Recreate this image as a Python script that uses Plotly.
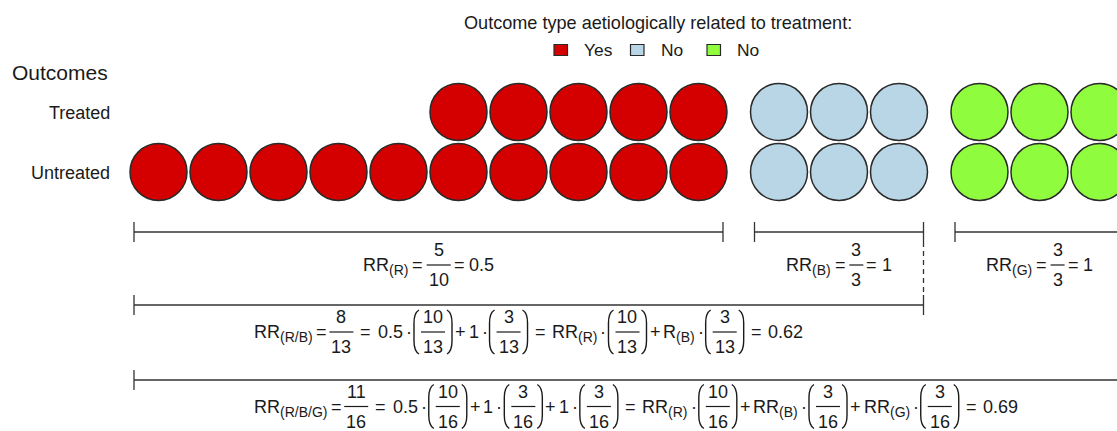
import plotly.graph_objects as go

# ---------------- data ----------------
group_labels = ["Yes", "No", "No"]            # outcome type aetiologically related to treatment
treated_counts = [5, 3, 3]                     # outcomes among treated, per outcome type
untreated_counts = [10, 3, 3]                  # outcomes among untreated, per outcome type
row_labels = ["Treated", "Untreated"]
legend_title = "Outcome type aetiologically related to treatment:"
axis_title = "Outcomes"

# formula token lists: t=text, s=subscript, g=gap(px), f=fraction, p=fraction in parentheses
formula_R = [("t", "RR"), ("s", "(R)"), ("g", 4), ("t", "="), ("g", 4), ("f", "5", "10"),
             ("g", 3), ("t", "="), ("g", 5), ("t", "0.5")]
formula_B = [("t", "RR"), ("s", "(B)"), ("g", 4), ("t", "="), ("g", 4), ("f", "3", "3"),
             ("g", 3), ("t", "="), ("g", 5), ("t", "1")]
formula_G = [("t", "RR"), ("s", "(G)"), ("g", 4), ("t", "="), ("g", 4), ("f", "3", "3"),
             ("g", 3), ("t", "="), ("g", 5), ("t", "1")]
formula_RB = [("t", "RR"), ("s", "(R/B)"), ("g", 3), ("t", "="), ("g", 3), ("f", "8", "13"),
              ("g", 7), ("t", "="), ("g", 7), ("t", "0.5"), ("g", 3), ("t", "·"), ("g", 3),
              ("p", "10", "13"), ("g", 3), ("t", "+"), ("g", 3), ("t", "1"), ("g", 3), ("t", "·"),
              ("g", 3), ("p", "3", "13"), ("g", 7), ("t", "="), ("g", 7), ("t", "RR"), ("s", "(R)"),
              ("g", 3), ("t", "·"), ("g", 3), ("p", "10", "13"), ("g", 3), ("t", "+"), ("g", 3),
              ("t", "R"), ("s", "(B)"), ("g", 3), ("t", "·"), ("g", 3), ("p", "3", "13"),
              ("g", 7), ("t", "="), ("g", 7), ("t", "0.62")]
formula_RBG = [("t", "RR"), ("s", "(R/B/G)"), ("g", 3), ("t", "="), ("g", 3), ("f", "11", "16"),
               ("g", 7), ("t", "="), ("g", 7), ("t", "0.5"), ("g", 3), ("t", "·"), ("g", 3),
               ("p", "10", "16"), ("g", 3), ("t", "+"), ("g", 3), ("t", "1"), ("g", 3), ("t", "·"),
               ("g", 3), ("p", "3", "16"), ("g", 3), ("t", "+"), ("g", 3), ("t", "1"), ("g", 3),
               ("t", "·"), ("g", 3), ("p", "3", "16"), ("g", 7), ("t", "="), ("g", 7),
               ("t", "RR"), ("s", "(R)"), ("g", 3), ("t", "·"), ("g", 3), ("p", "10", "16"),
               ("g", 3), ("t", "+"), ("g", 3), ("t", "RR"), ("s", "(B)"), ("g", 3), ("t", "·"),
               ("g", 3), ("p", "3", "16"), ("g", 3), ("t", "+"), ("g", 3), ("t", "RR"),
               ("s", "(G)"), ("g", 3), ("t", "·"), ("g", 3), ("p", "3", "16"), ("g", 7),
               ("t", "="), ("g", 7), ("t", "0.69")]

# ---------------- style ----------------
W, H = 1117, 431
FONT = "Liberation Sans, Arial, sans-serif"
TXT = "#1a1a1a"
LINE = "#333333"
colors = ["#d40000", "#b8d6e5", "#8ffc3d"]
F = 18          # main formula font
FS = 14         # subscript font
SUB_DY = 5
FDY = 15        # numerator/denominator offset from bar
FPAD = 2
PW, PGAP, PH = 5, 2, 22

slot = 60.0
diam = 57
first_center = 158.5
group_gap = 20.5
row_y = {"Treated": 112, "Untreated": 172}
inset = 24.5
bracket_y = [232, 305, 380]
formula_y = [265, 332, 406.5]
tick_h = 10

# Arial / Liberation Sans advance widths (per 1000 em)
CW = {" ": 278, "(": 333, ")": 333, "/": 278, "=": 584, "+": 584, ".": 278, "·": 278,
      "R": 722, "B": 667, "G": 778, ":": 278}


def tw(s, size):
    return sum(CW.get(c, 556) for c in s) / 1000.0 * size


fig = go.Figure()
shapes = []
annotations = []


def text(s, x, y, size, xanchor="left", color=TXT):
    annotations.append(dict(text=s, x=x, y=y, xref="x", yref="y", showarrow=False,
                            xanchor=xanchor, yanchor="middle", borderpad=0, borderwidth=0,
                            font=dict(family=FONT, size=size, color=color)))


def line(x0, y0, x1, y1, dash="solid", width=1.3, color=LINE):
    shapes.append(dict(type="line", xref="x", yref="y", x0=x0, y0=y0, x1=x1, y1=y1,
                       line=dict(color=color, width=width, dash=dash)))


def frac_width(num, den):
    return max(tw(num, F), tw(den, F)) + 2 * FPAD


def token_width(tok):
    k = tok[0]
    if k == "t":
        return tw(tok[1], F)
    if k == "s":
        return tw(tok[1], FS)
    if k == "g":
        return tok[1]
    if k == "f":
        return frac_width(tok[1], tok[2])
    if k == "p":
        return frac_width(tok[1], tok[2]) + 2 * (PW + PGAP)
    return 0


def draw_frac(num, den, x, yc):
    w = frac_width(num, den)
    line(x, yc, x + w, yc, width=1.2, color=TXT)
    text(num, x + w / 2, yc - FDY, F, xanchor="center")
    text(den, x + w / 2, yc + FDY, F, xanchor="center")
    return w


def paren(x, yc, left=True):
    t, b = yc - PH, yc + PH
    if left:
        p = f"M {x+PW},{t} Q {x},{t+3} {x},{t+13} L {x},{b-13} Q {x},{b-3} {x+PW},{b}"
    else:
        p = f"M {x},{t} Q {x+PW},{t+3} {x+PW},{t+13} L {x+PW},{b-13} Q {x+PW},{b-3} {x},{b}"
    shapes.append(dict(type="path", xref="x", yref="y", path=p,
                       line=dict(color=TXT, width=1.4)))


def draw_formula(tokens, yc, center=None, left=None):
    total = sum(token_width(t) for t in tokens)
    x = left if left is not None else center - total / 2
    x_start = x
    for tok in tokens:
        k = tok[0]
        if k == "t":
            text(tok[1], x, yc, F)
        elif k == "s":
            text(tok[1], x, yc + SUB_DY, FS)
        elif k == "f":
            draw_frac(tok[1], tok[2], x, yc)
        elif k == "p":
            paren(x, yc, True)
            w = draw_frac(tok[1], tok[2], x + PW + PGAP, yc)
            paren(x + PW + PGAP + w + PGAP, yc, False)
        x += token_width(tok)
    return x_start


# ---------------- circles ----------------
group_first = []
c = first_center
for g in range(len(group_labels)):
    group_first.append(c)
    n = max(treated_counts[g], untreated_counts[g])
    c += n * slot + group_gap

group_extent = []
for g in range(len(group_labels)):
    n = max(treated_counts[g], untreated_counts[g])
    xs, ys = [], []
    for row, counts in (("Treated", treated_counts), ("Untreated", untreated_counts)):
        k = counts[g]
        for i in range(n - k, n):   # right-aligned within the group
            xs.append(group_first[g] + i * slot)
            ys.append(row_y[row])
    group_extent.append((group_first[g] - inset, group_first[g] + (n - 1) * slot + inset))
    fig.add_trace(go.Scatter(x=xs, y=ys, mode="markers", name=group_labels[g], showlegend=False,
                             hoverinfo="skip",
                             marker=dict(size=diam, color=colors[g],
                                         line=dict(color="#2a2a2a", width=1.5))))

# ---------------- labels ----------------
text(axis_title, 12, 72.5, 21)
for r in row_labels:
    text(r, 110, row_y[r] + 1, 18, xanchor="right")

# legend (manual)
text(legend_title, 657.5, 23, 18.1, xanchor="center")
leg_x0, leg_pitch = 554, 76.5
for i, lab in enumerate(group_labels):
    x = leg_x0 + i * leg_pitch
    shapes.append(dict(type="rect", xref="x", yref="y", x0=x, x1=x + 13.5, y0=44.5, y1=55.5,
                       fillcolor=colors[i], line=dict(color="#2a2a2a", width=1.2)))
    text(lab, x + 30, 50, 17.4)

# ---------------- brackets ----------------
def bracket(x0, x1, y):
    line(x0, y, x1, y)
    line(x0, y - tick_h, x0, y + tick_h)
    line(x1, y - tick_h, x1, y + tick_h)


for g in range(len(group_labels)):
    bracket(group_extent[g][0], group_extent[g][1], bracket_y[0])
bracket(group_extent[0][0], group_extent[1][1], bracket_y[1])
bracket(group_extent[0][0], group_extent[2][1], bracket_y[2])
line(group_extent[1][1], bracket_y[0] + tick_h, group_extent[1][1], bracket_y[1] - tick_h,
     dash="5px,4px")

# ---------------- formulas ----------------
for g, fm in enumerate([formula_R, formula_B, formula_G]):
    draw_formula(fm, formula_y[0], center=(group_extent[g][0] + group_extent[g][1]) / 2)
xl = draw_formula(formula_RB, formula_y[1],
                  center=(group_extent[0][0] + group_extent[1][1]) / 2)
draw_formula(formula_RBG, formula_y[2], left=xl)

fig.update_layout(
    width=W, height=H, margin=dict(l=0, r=0, t=0, b=0),
    paper_bgcolor="white", plot_bgcolor="white",
    xaxis=dict(range=[0, W], visible=False, fixedrange=True),
    yaxis=dict(range=[H, 0], visible=False, fixedrange=True),
    shapes=shapes, annotations=annotations, showlegend=False,
)
fig.write_html("out.html", config={"displayModeBar": False},
               post_script="document.body.style.margin='0';document.body.style.overflow='hidden';")
